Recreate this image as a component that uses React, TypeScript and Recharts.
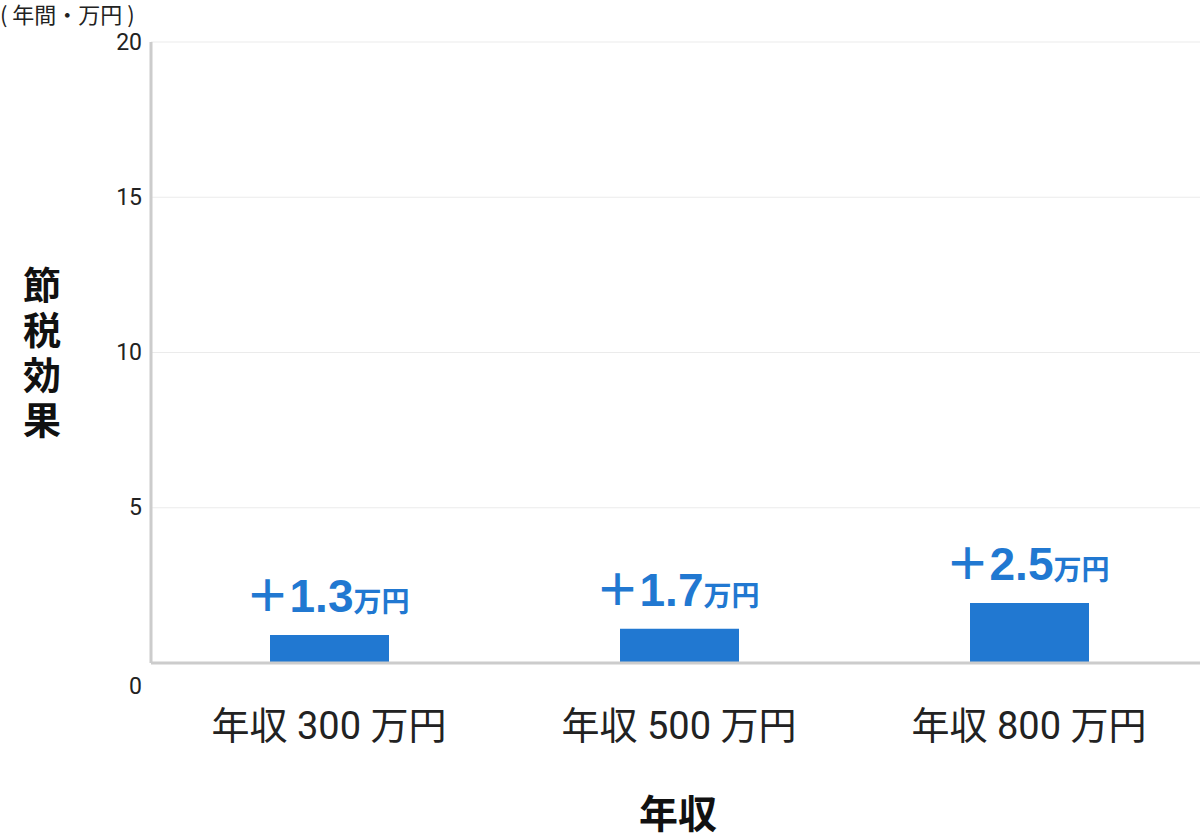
import React from "react";
import { BarChart, Bar, XAxis, YAxis, CartesianGrid, LabelList, Label } from "recharts";

const categories = ["年収 300 万円", "年収 500 万円", "年収 800 万円"];
const barValues = [0.9, 1.1, 1.93];
const labelNumbers = ["1.3", "1.7", "2.5"];
const yTicks = [0, 5, 10, 15, 20];

const data = categories.map((name, i) => ({ name, value: barValues[i], label: labelNumbers[i] }));

const BLUE = "#2178D1";
const JP = "'Noto Sans CJK JP', 'Noto Sans', sans-serif";
const NUM = "'Liberation Sans', Arial, sans-serif";
const DIG = "Roboto, 'Noto Sans CJK JP', sans-serif";

const YTick = (props: any) => {
  const { x, y, payload } = props;
  const dy = payload.value === 0 ? 23 : 0;
  return (
    <text x={x} y={y + dy} textAnchor="end" dominantBaseline="central" fill="#222" fontSize={23} fontFamily={DIG}>
      {payload.value}
    </text>
  );
};

const XTick = (props: any) => {
  const { x, y, payload } = props;
  return (
    <text x={x} y={y + 55} textAnchor="middle" dominantBaseline="central" fill="#222" fontSize={38} fontFamily={DIG}>
      {payload.value}
    </text>
  );
};

const ValueLabel = (props: any) => {
  const { x, y, width, index } = props;
  const cx = x + width / 2;
  return (
    <text x={cx - 2} y={y - 23} textAnchor="middle" fill={BLUE} fontWeight="bold">
      <tspan fontSize={44} fontFamily={JP}>＋</tspan>
      <tspan fontSize={46} fontFamily={NUM}>{labelNumbers[index]}</tspan>
      <tspan fontSize={28} fontFamily={JP}>万円</tspan>
    </text>
  );
};

const YTitle = () => (
  <text
    x={42}
    y={356}
    textAnchor="middle"
    fill="#111"
    fontSize={38}
    fontWeight="bold"
    fontFamily={JP}
    style={{ writingMode: "vertical-rl", letterSpacing: 7 } as any}
  >
    節税効果
  </text>
);

const XTitle = () => (
  <text x={678} y={811} textAnchor="middle" dominantBaseline="central" fill="#111" fontSize={39} fontWeight="bold" fontFamily={JP}>
    年収
  </text>
);

export default function App() {
  return (
    <div style={{ position: "absolute", left: 0, top: 0, width: 1200, height: 835, background: "#fff", overflow: "hidden" }}>
      <div style={{ position: "absolute", left: 0, top: 1, fontFamily: JP, fontSize: 22, color: "#222", lineHeight: "24px", whiteSpace: "pre" }}>
        ( 年間・万円 )
      </div>
      <BarChart width={1204} height={835} data={data} margin={{ top: 42, right: 0, left: 0, bottom: 0 }}>
        <CartesianGrid horizontal vertical={false} stroke="#ebebeb" strokeWidth={1} />
        <XAxis
          dataKey="name"
          height={172}
          padding={{ left: 3, right: 0 }}
          axisLine={{ stroke: "#cccccc", strokeWidth: 3 }}
          tickLine={false}
          tick={<XTick />}
          interval={0}
        >
          <Label content={<XTitle />} />
        </XAxis>
        <YAxis
          width={151}
          domain={[0, 20]}
          ticks={yTicks}
          axisLine={{ stroke: "#cccccc", strokeWidth: 3 }}
          tickLine={false}
          tickSize={0}
          tickMargin={9}
          tick={<YTick />}
        >
          <Label content={<YTitle />} />
        </YAxis>
        <Bar dataKey="value" fill={BLUE} barSize={119} isAnimationActive={false}>
          <LabelList dataKey="label" content={<ValueLabel />} />
        </Bar>
      </BarChart>
    </div>
  );
}
